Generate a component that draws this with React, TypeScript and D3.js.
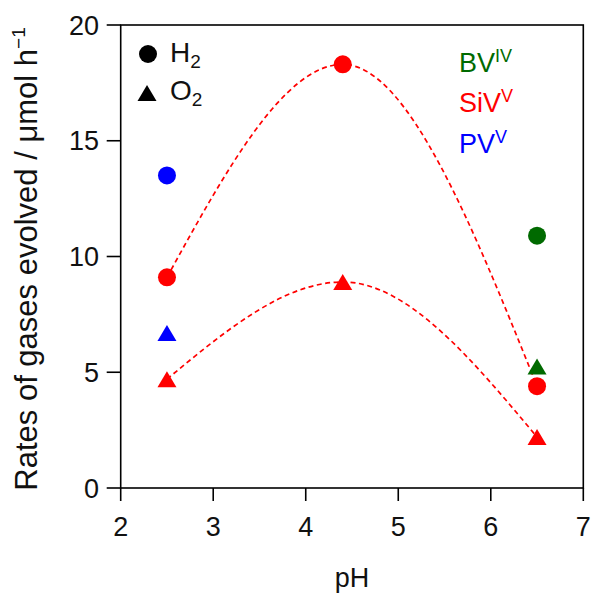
import React from "react";
import * as d3 from "d3";

// pH values at which the catalysts were measured
const phSiV = [2.5, 4.4, 6.5];
const h2SiV = [9.1, 18.3, 4.4];
const o2SiV = [4.7, 8.9, 2.2];

const phPV = [2.5];
const h2PV = [13.5];
const o2PV = [6.7];

const phBV = [6.5];
const h2BV = [10.9];
const o2BV = [5.25];

const xTicks = [2, 3, 4, 5, 6, 7];
const yTicks = [0, 5, 10, 15, 20];

const RED = "#ff0000";
const BLUE = "#0000ff";
const GREEN = "#006a00";

const W = 593;
const H = 596;
const FONT = "'Liberation Sans', Arial, Helvetica, sans-serif";

const x = d3.scaleLinear().domain([2, 7]).range([120.7, 583.3]);
const y = d3.scaleLinear().domain([0, 20]).range([488, 25]);

const R = 9;
const TW = 19;
const TH = 16;

function trianglePath(cx: number, cy: number) {
  const p = d3.path();
  p.moveTo(cx, cy - TH / 2);
  p.lineTo(cx + TW / 2, cy + TH / 2);
  p.lineTo(cx - TW / 2, cy + TH / 2);
  p.closePath();
  return p.toString();
}

const curve = d3
  .line<[number, number]>()
  .x((d) => x(d[0]))
  .y((d) => y(d[1]))
  .curve(d3.curveMonotoneX);

export default function App() {
  const h2Line = curve(phSiV.map((p, i) => [p, h2SiV[i]]));
  const o2Line = curve(phSiV.map((p, i) => [p, o2SiV[i]]));

  const series = [
    { ph: phSiV, h2: h2SiV, o2: o2SiV, color: RED },
    { ph: phPV, h2: h2PV, o2: o2PV, color: BLUE },
    { ph: phBV, h2: h2BV, o2: o2BV, color: GREEN },
  ];

  const [x0, x1] = x.range();
  const [y0, y1] = y.range();

  return (
    <svg
      width={W}
      height={H}
      style={{ position: "absolute", left: 0, top: 0, background: "#fff" }}
      fontFamily={FONT}
    >
      {/* fitted trend lines */}
      <path d={h2Line || ""} fill="none" stroke={RED} strokeWidth={1.7} strokeDasharray="5,3.5" />
      <path d={o2Line || ""} fill="none" stroke={RED} strokeWidth={1.7} strokeDasharray="5,3.5" />

      {/* markers: circles for H2, triangles for O2 */}
      {series.map((s, si) => (
        <g key={si}>
          {s.ph.map((p, i) => (
            <circle key={"c" + i} cx={x(p)} cy={y(s.h2[i])} r={R} fill={s.color} />
          ))}
          {s.ph.map((p, i) => (
            <path key={"t" + i} d={trianglePath(x(p), y(s.o2[i]))} fill={s.color} />
          ))}
        </g>
      ))}

      {/* frame */}
      <rect x={x0} y={y1} width={x1 - x0} height={y0 - y1} fill="none" stroke="#000" strokeWidth={1.6} />

      {/* x axis ticks */}
      {xTicks.map((t) => (
        <g key={"xt" + t}>
          <line x1={x(t)} x2={x(t)} y1={y0} y2={y0 + 13} stroke="#000" strokeWidth={1.6} />
          <text x={x(t)} y={536} fontSize={27} textAnchor="middle" fill="#111">
            {t}
          </text>
        </g>
      ))}

      {/* y axis ticks */}
      {yTicks.map((t) => (
        <g key={"yt" + t}>
          <line x1={x0 - 14} x2={x0} y1={y(t)} y2={y(t)} stroke="#000" strokeWidth={1.6} />
          <text x={99} y={y(t) + 9.5} fontSize={27} textAnchor="end" fill="#111">
            {t}
          </text>
        </g>
      ))}

      {/* axis titles */}
      <text x={(x0 + x1) / 2} y={587} fontSize={27} textAnchor="middle" fill="#111">
        pH
      </text>
      <text
        transform={`translate(37, 259) rotate(-90)`}
        fontSize={31}
        textAnchor="middle"
        fill="#111"
      >
        Rates of gases evolved / μmol h
        <tspan fontSize={19} dy={-12}>−1</tspan>
      </text>

      {/* gas legend */}
      <circle cx={148} cy={54} r={R} fill="#000" />
      <text x={170} y={62} fontSize={28} fill="#111">
        H<tspan fontSize={19} dy={6}>2</tspan>
      </text>
      <path d={trianglePath(147, 93)} fill="#000" />
      <text x={170} y={100} fontSize={28} fill="#111">
        O<tspan fontSize={19} dy={6}>2</tspan>
      </text>

      {/* catalyst legend */}
      <text x={459} y={72} fontSize={27} fill={GREEN}>
        BV<tspan fontSize={18} dy={-10}>IV</tspan>
      </text>
      <text x={459} y={112} fontSize={27} fill={RED}>
        SiV<tspan fontSize={18} dy={-10}>V</tspan>
      </text>
      <text x={459} y={153} fontSize={27} fill={BLUE}>
        PV<tspan fontSize={18} dy={-10}>V</tspan>
      </text>
    </svg>
  );
}
